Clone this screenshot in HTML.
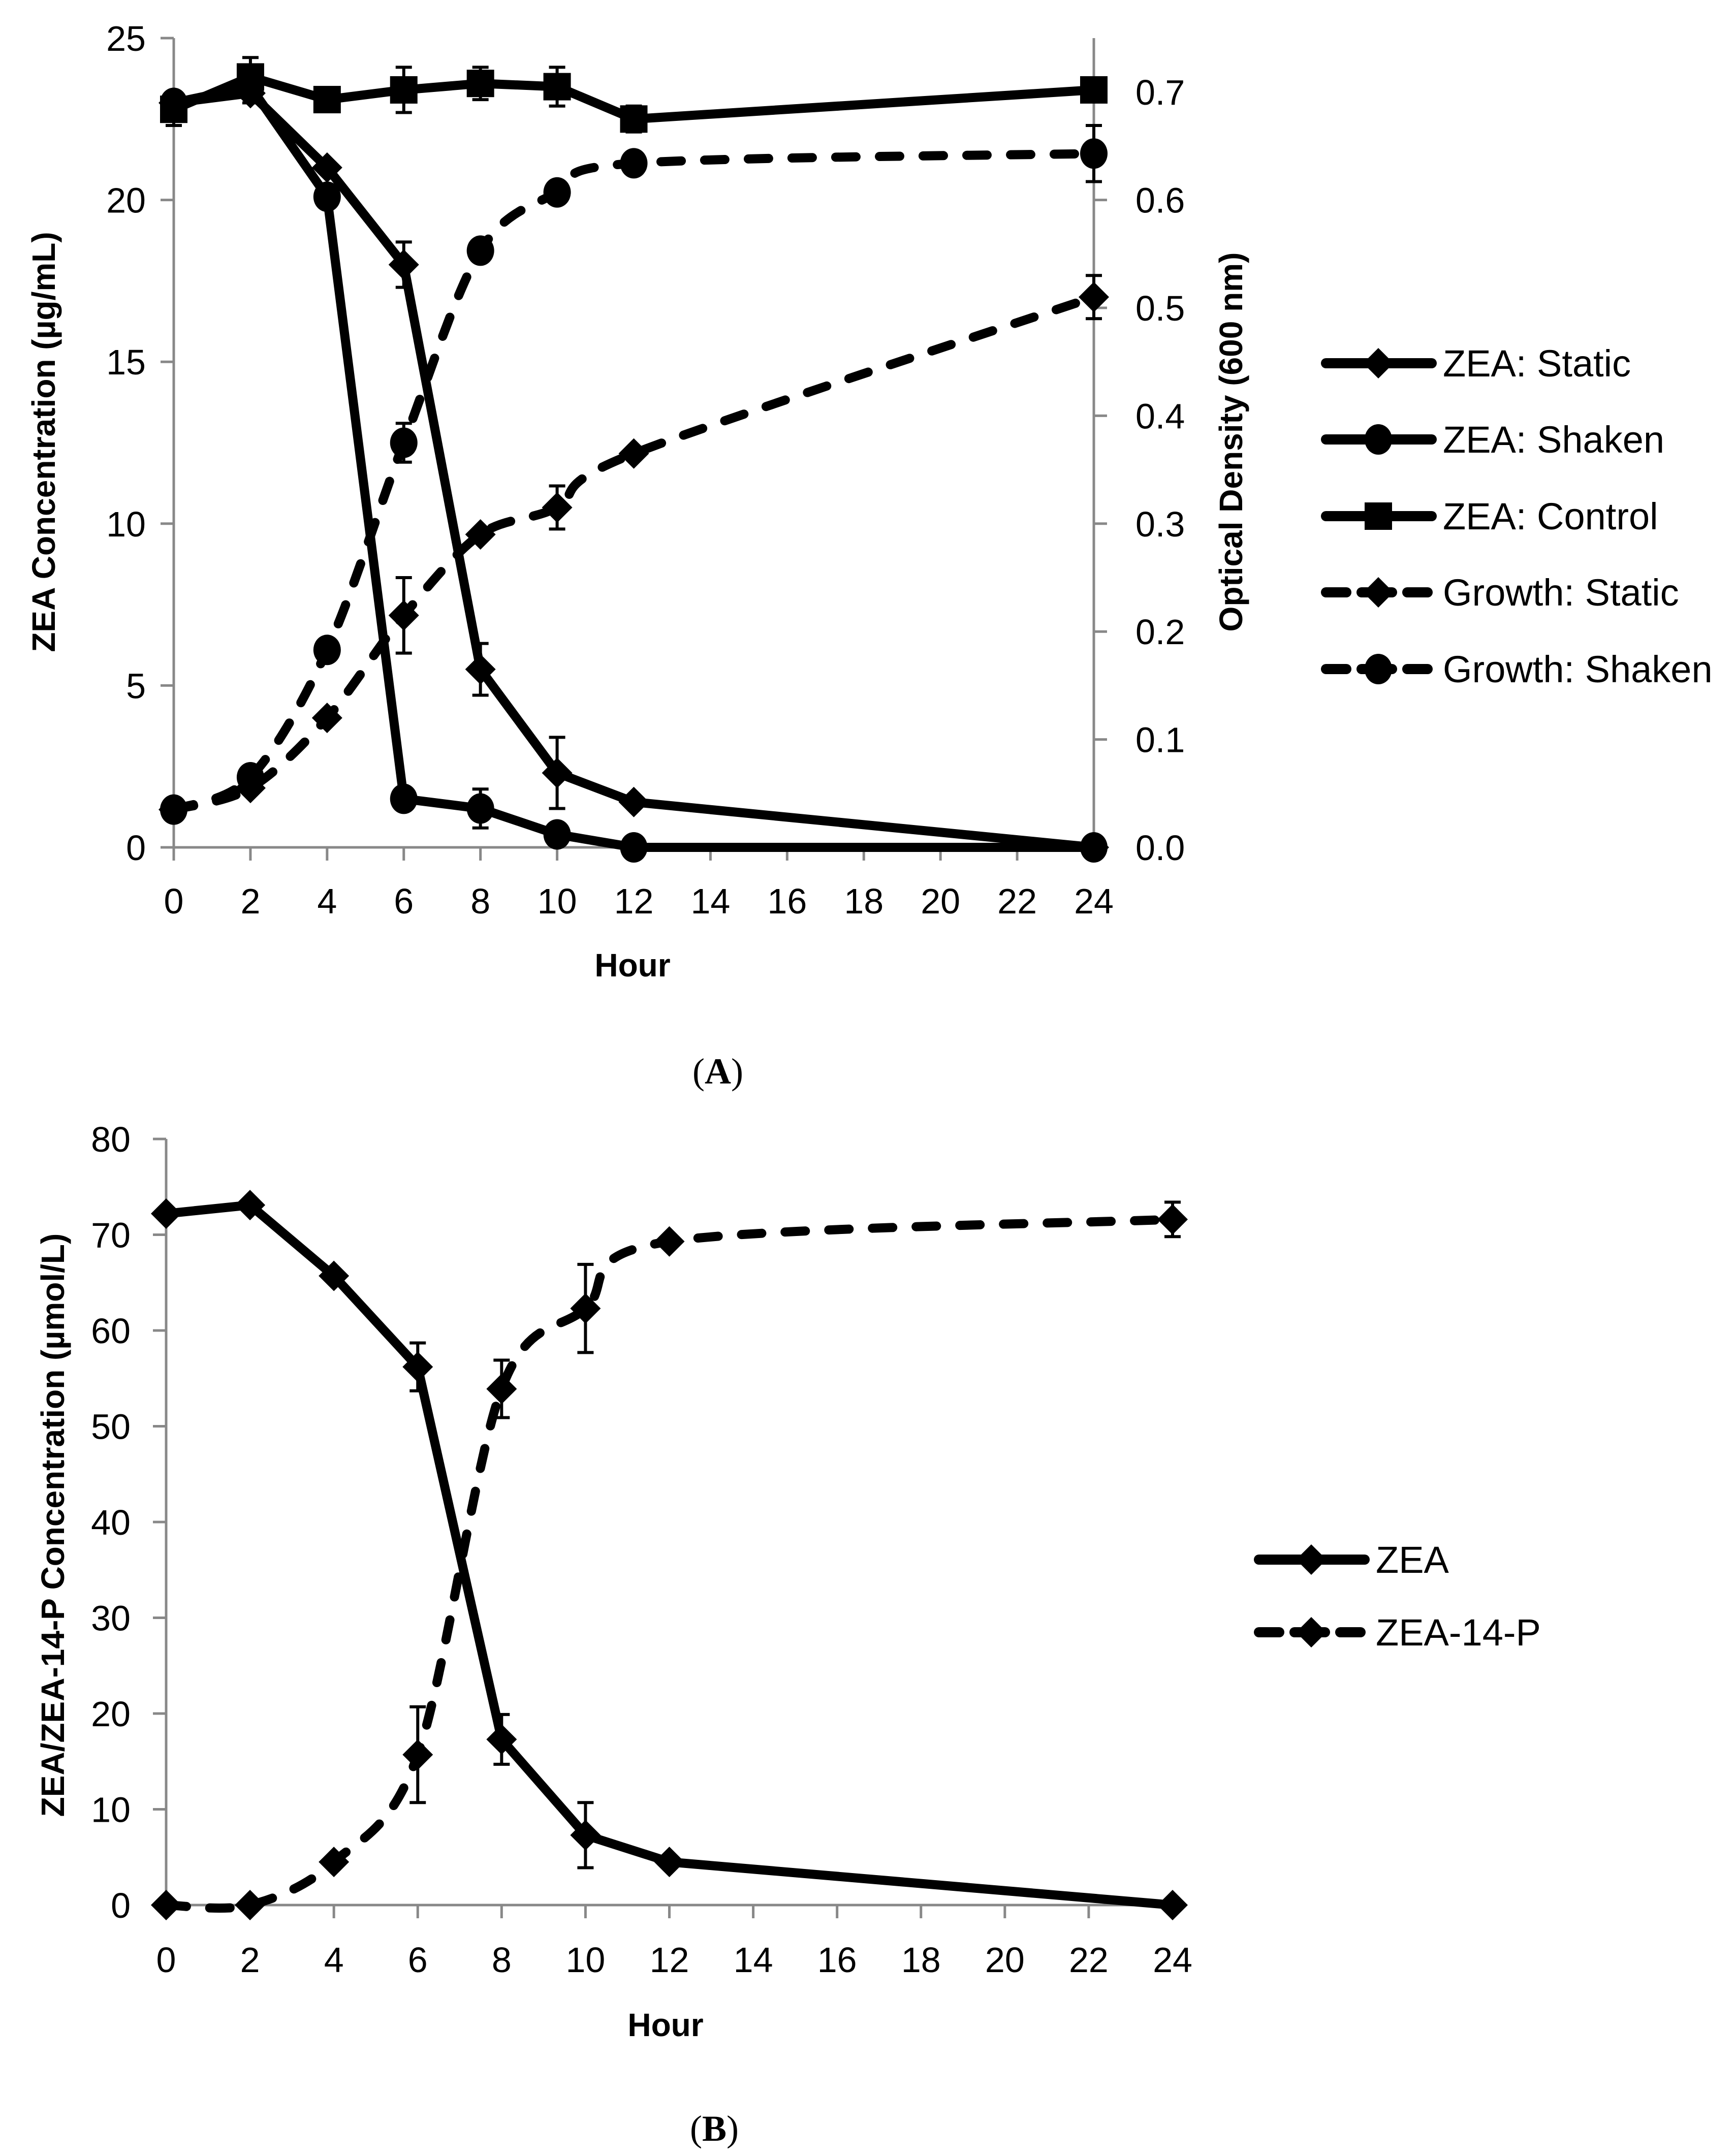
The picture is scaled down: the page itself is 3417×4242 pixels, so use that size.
<!DOCTYPE html>
<html><head><meta charset="utf-8">
<style>
html,body{margin:0;padding:0;background:#fff;}
svg{display:block;}
text{font-family:"Liberation Sans",sans-serif;fill:#000;}
.tick{font-size:70px;}
.ttl{font-size:64px;font-weight:bold;}
.leg{font-size:74px;}
.cap{font-family:"Liberation Serif",serif;font-size:72px;}
</style></head>
<body>
<svg id="fig" width="3417" height="4242" viewBox="0 0 3417 4242" xmlns="http://www.w3.org/2000/svg">
<text class="cap" x="1413" y="2133" text-anchor="middle">(<tspan font-weight="bold">A</tspan>)</text>
<text class="cap" x="1406" y="4214" text-anchor="middle">(<tspan font-weight="bold">B</tspan>)</text>
</svg>
<script>
// ---- Panel A data ----
const hoursA = [0, 2, 4, 6, 8, 10, 12, 24];
const xTicks = [0, 2, 4, 6, 8, 10, 12, 14, 16, 18, 20, 22, 24];
const leftTicksA = [0, 5, 10, 15, 20, 25];
const rightTicksA = ["0.0","0.1","0.2","0.3","0.4","0.5","0.6","0.7"];
const zeaStatic = [23.0, 23.3, 21.0, 18.0, 5.5, 2.3, 1.4, 0];
const zeaStaticErr = [0.3, 0.3, 0, 0.7, 0.8, 1.1, 0, 0];
const zeaShaken = [23.0, 23.5, 20.1, 1.5, 1.2, 0.4, 0, 0];
const zeaShakenErr = [0, 0, 0, 0, 0.6, 0, 0, 0];
const zeaControl = [22.8, 23.8, 23.1, 23.4, 23.6, 23.5, 22.5, 23.4];
const zeaControlErr = [0.5, 0.6, 0, 0.7, 0.5, 0.6, 0.4, 0];
const growthStatic = [0.035, 0.055, 0.12, 0.215, 0.29, 0.315, 0.365, 0.51];
const growthStaticErr = [0, 0, 0, 0.035, 0, 0.02, 0, 0.02];
const growthShaken = [0.035, 0.065, 0.183, 0.375, 0.553, 0.607, 0.634, 0.643];
const growthShakenErr = [0, 0, 0, 0.018, 0, 0, 0, 0.026];
const legendA = ["ZEA: Static","ZEA: Shaken","ZEA: Control","Growth: Static","Growth: Shaken"];
// ---- Panel B data ----
const hoursB = [0, 2, 4, 6, 8, 10, 12, 24];
const leftTicksB = [0, 10, 20, 30, 40, 50, 60, 70, 80];
const zeaB = [72.2, 73.1, 65.7, 56.2, 17.3, 7.3, 4.5, 0];
const zeaBErr = [0, 0, 0, 2.5, 2.6, 3.4, 0, 0];
const zeaP = [0, 0, 4.5, 15.7, 53.9, 62.3, 69.3, 71.6];
const zeaPErr = [0, 0, 0, 5.0, 3.0, 4.6, 0, 1.8];
const legendB = ["ZEA","ZEA-14-P"];

const NS = "http://www.w3.org/2000/svg";
const svg = document.getElementById('fig');
function mk(tag, attrs, parent){
  const e = document.createElementNS(NS, tag);
  for (const k in attrs) e.setAttribute(k, attrs[k]);
  (parent||svg).appendChild(e);
  return e;
}
function lin(d0,d1,r0,r1){ return v => r0 + (v-d0)/(d1-d0)*(r1-r0); }

function smoothPath(pts){
  let d = `M${pts[0][0]},${pts[0][1]}`;
  for (let i=0;i<pts.length-1;i++){
    const p0=pts[Math.max(0,i-1)], p1=pts[i], p2=pts[i+1], p3=pts[Math.min(pts.length-1,i+2)];
    const t=0.16;
    const c1=[p1[0]+(p2[0]-p0[0])*t, p1[1]+(p2[1]-p0[1])*t];
    const c2=[p2[0]-(p3[0]-p1[0])*t, p2[1]-(p3[1]-p1[1])*t];
    d += ` C${c1[0]},${c1[1]} ${c2[0]},${c2[1]} ${p2[0]},${p2[1]}`;
  }
  return d;
}
function marker(g, type, cx, cy){
  let m;
  if (type==='diamond') m = mk('polygon',{points:`${cx},${cy-30} ${cx+30},${cy} ${cx},${cy+30} ${cx-30},${cy}`,fill:'#000'},g);
  else if (type==='circle') m = mk('ellipse',{cx:cx,cy:cy,rx:27,ry:30,fill:'#000'},g);
  else m = mk('rect',{x:cx-27,y:cy-27,width:54,height:54,fill:'#000'},g);
  return m;
}
function series(xs, ys, errs, X, Y, type, dashed, smooth, name){
  const g = mk('g',{});
  
  
  const pts = xs.map((x,i)=>[X(x),Y(ys[i])]);
  const dPath = smooth ? smoothPath(pts) : 'M'+pts.map(p=>p.join(',')).join(' L');
  const line = mk('path',{d:dPath,fill:'none',stroke:'#000','stroke-width':18,'stroke-linejoin':'round','stroke-linecap':dashed?'round':'butt'},g);
  if (dashed) line.setAttribute('stroke-dasharray','40 46');
  
  
  xs.forEach((x,i)=>{
    const e = errs[i];
    if (e>0){
      const cx=X(x), y1=Y(ys[i]+e), y2=Y(ys[i]-e);
      const eb = mk('path',{d:`M${cx},${y1} L${cx},${y2} M${cx-16},${y1} L${cx+16},${y1} M${cx-16},${y2} L${cx+16},${y2}`,stroke:'#000','stroke-width':6,fill:'none'},g);
      
      
    }
    const m = marker(g, type, X(x), Y(ys[i]));
    
    
  });
}
function legendEntry(x, y, type, dashed, label){
  const g = mk('g',{});
  
  
  if (dashed){
    mk('path',{d:`M${x+10},${y} L${x+50},${y} M${x+80},${y} L${x+140},${y} M${x+170},${y} L${x+210},${y}`,stroke:'#000','stroke-width':20,'stroke-linecap':'round'},g);
  } else {
    mk('path',{d:`M${x+10},${y} L${x+218},${y}`,stroke:'#000','stroke-width':20,'stroke-linecap':'round'},g);
  }
  marker(g, type, x+113, y);
  const t = mk('text',{x:x+240,y:y+26,class:'leg'},g);
  t.textContent = label;
}
const axisStyle = {stroke:'#888','stroke-width':5,fill:'none'};

// ===== Panel A =====
(function(){
  const x0=342, x1=2153, yb=1668, yt=75;
  const X = lin(0,24,x0,x1);
  const YL = lin(0,25,yb,yt);
  const YR = lin(0,0.75,yb,yt);
  const ax = mk('g',{});
  
  
  mk('path',Object.assign({d:`M${x0},${yt} L${x0},${yb} L${x1},${yb} M${x1},${yt} L${x1},${yb}`},axisStyle),ax);
  xTicks.forEach(v=>{
    mk('path',Object.assign({d:`M${X(v)},${yb} L${X(v)},${yb+26}`},axisStyle),ax);
    const t=mk('text',{x:X(v),y:yb+130,class:'tick','text-anchor':'middle'},ax); t.textContent=v;
  });
  leftTicksA.forEach(v=>{
    mk('path',Object.assign({d:`M${x0-26},${YL(v)} L${x0},${YL(v)}`},axisStyle),ax);
    const t=mk('text',{x:x0-55,y:YL(v)+25,class:'tick','text-anchor':'end'},ax); t.textContent=v;
  });
  rightTicksA.forEach(v=>{
    const y=YR(parseFloat(v));
    mk('path',Object.assign({d:`M${x1},${y} L${x1+26},${y}`},axisStyle),ax);
    const t=mk('text',{x:x1+82,y:y+25,class:'tick'},ax); t.textContent=v;
  });
  const xt=mk('text',{x:1245,y:1922,class:'ttl','text-anchor':'middle','font-size':'68'},ax); xt.textContent='Hour';
   
  const yl=mk('text',{x:0,y:0,class:'ttl','text-anchor':'middle',transform:'translate(108,870) rotate(-90)'},ax); yl.textContent='ZEA Concentration  (µg/mL)';
   
  const yr=mk('text',{x:0,y:0,class:'ttl','text-anchor':'middle',transform:'translate(2445,870) rotate(-90)'},ax); yr.textContent='Optical Density (600 nm)';
   

  series(hoursA, growthStatic, growthStaticErr, X, YR, 'diamond', true, true, 'growth-static');
  series(hoursA, growthShaken, growthShakenErr, X, YR, 'circle', true, true, 'growth-shaken');
  series(hoursA, zeaControl, zeaControlErr, X, YL, 'square', false, false, 'zea-control');
  series(hoursA, zeaShaken, zeaShakenErr, X, YL, 'circle', false, false, 'zea-shaken');
  series(hoursA, zeaStatic, zeaStaticErr, X, YL, 'diamond', false, false, 'zea-static');

  const types=['diamond','circle','square','diamond','circle'];
  const ys=[715,865,1016,1166,1317];
  legendA.forEach((l,i)=>legendEntry(2600, ys[i], types[i], i>=3, l));
})();

// ===== Panel B =====
(function(){
  const x0=327, x1=2308, yb=3750, yt=2242;
  const X = lin(0,24,x0,x1);
  const Y = lin(0,80,yb,yt);
  const ax = mk('g',{});
  
  
  mk('path',Object.assign({d:`M${x0},${yt} L${x0},${yb} L${x1},${yb}`},axisStyle),ax);
  xTicks.forEach(v=>{
    mk('path',Object.assign({d:`M${X(v)},${yb} L${X(v)},${yb+26}`},axisStyle),ax);
    const t=mk('text',{x:X(v),y:yb+132,class:'tick','text-anchor':'middle'},ax); t.textContent=v;
  });
  leftTicksB.forEach(v=>{
    mk('path',Object.assign({d:`M${x0-26},${Y(v)} L${x0},${Y(v)}`},axisStyle),ax);
    const t=mk('text',{x:x0-70,y:Y(v)+25,class:'tick','text-anchor':'end'},ax); t.textContent=v;
  });
  const xt=mk('text',{x:1310,y:4008,class:'ttl','text-anchor':'middle','font-size':'68'},ax); xt.textContent='Hour';
   
  const yl=mk('text',{x:0,y:0,class:'ttl','text-anchor':'middle',transform:'translate(126,3002) rotate(-90)'},ax); yl.textContent='ZEA/ZEA-14-P Concentration (µmol/L)';
   

  series(hoursB, zeaP, zeaPErr, X, Y, 'diamond', true, true, 'zea-14-p');
  series(hoursB, zeaB, zeaBErr, X, Y, 'diamond', false, false, 'zea');
  legendEntry(2468, 3070, 'diamond', false, legendB[0]);
  legendEntry(2468, 3213, 'diamond', true, legendB[1]);
})();
</script>
</body></html>
